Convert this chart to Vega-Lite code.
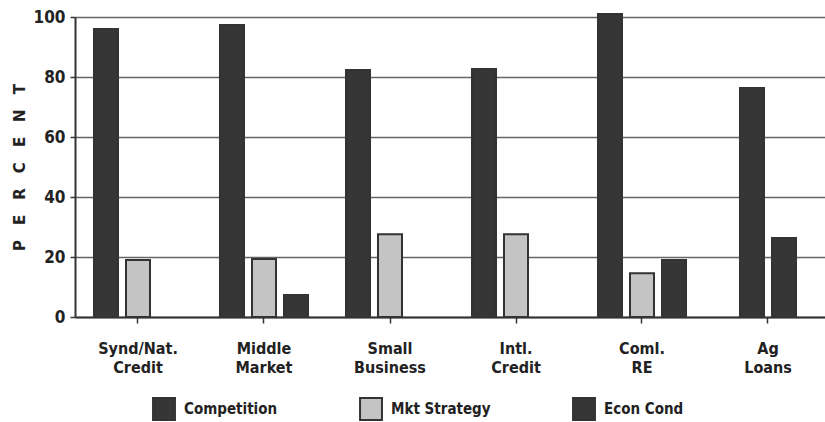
{
  "$schema": "https://vega.github.io/schema/vega-lite/v6.json",
  "autosize": {"type": "none"},
  "padding": {"left": 75, "top": 17, "right": 0, "bottom": 105},
  "width": 756,
  "height": 300,
  "background": "white",
  "config": {
    "font": "DejaVu Sans Condensed",
    "view": {"stroke": null}
  },
  "data": {
    "values": [
      {"category": "Synd/Nat. Credit", "series": "Competition", "value": 96},
      {"category": "Synd/Nat. Credit", "series": "Mkt Strategy", "value": 19},
      {"category": "Middle Market", "series": "Competition", "value": 97.3},
      {"category": "Middle Market", "series": "Mkt Strategy", "value": 19.3},
      {"category": "Middle Market", "series": "Econ Cond", "value": 7.3},
      {"category": "Small Business", "series": "Competition", "value": 82.3},
      {"category": "Small Business", "series": "Mkt Strategy", "value": 27.6},
      {"category": "Intl. Credit", "series": "Competition", "value": 82.7},
      {"category": "Intl. Credit", "series": "Mkt Strategy", "value": 27.6},
      {"category": "Coml. RE", "series": "Competition", "value": 101},
      {"category": "Coml. RE", "series": "Mkt Strategy", "value": 14.6},
      {"category": "Coml. RE", "series": "Econ Cond", "value": 19},
      {"category": "Ag Loans", "series": "Competition", "value": 76.3},
      {"category": "Ag Loans", "series": "Econ Cond", "value": 26.3}
    ]
  },
  "encoding": {
    "x": {
      "field": "category", "type": "nominal",
      "scale": {
        "domain": ["Synd/Nat. Credit", "Middle Market", "Small Business", "Intl. Credit", "Coml. RE", "Ag Loans"],
        "paddingInner": 0.238, "paddingOuter": 0.119
      },
      "axis": {
        "title": null, "labelAngle": 0, "labelExpr": "split(datum.label, ' ')",
        "labelFont": "DejaVu Sans Condensed", "labelFontWeight": "bold", "labelFontSize": 16,
        "labelColor": "#222", "labelLineHeight": 19, "labelPadding": 17, "labelBaseline": "top",
        "tickColor": "#333", "tickSize": 6, "tickWidth": 1.5,
        "domainColor": "#333", "domainWidth": 2, "grid": false
      }
    },
    "y": {
      "field": "value", "type": "quantitative",
      "scale": {"domain": [0, 100], "nice": false},
      "axis": {
        "title": "P\u2003E\u2003R\u2003C\u2003E\u2003N\u2003T", "titleFont": "DejaVu Sans", "titleFontWeight": "bold", "titleFontSize": 15,
        "titleColor": "#222", "titlePadding": 6,
        "values": [0, 20, 40, 60, 80, 100],
        "labelFont": "DejaVu Sans Condensed", "labelFontWeight": "bold", "labelFontSize": 17,
        "labelColor": "#222", "labelPadding": 5,
        "tickColor": "#333", "tickSize": 5, "tickWidth": 1.5,
        "domainColor": "#333", "domainWidth": 2,
        "grid": true, "gridColor": "#666", "gridWidth": 1.6
      }
    },
    "color": {
      "field": "series", "type": "nominal",
      "scale": {"domain": ["Competition", "Mkt Strategy", "Econ Cond"], "range": ["#363636", "#c4c4c4", "#363636"]},
      "legend": {
        "title": null, "orient": "none", "legendX": 77, "legendY": 380, "direction": "horizontal",
        "symbolType": "square", "symbolSize": 480, "symbolStrokeColor": "#333", "symbolStrokeWidth": 2,
        "symbolOpacity": 1,
        "labelFont": "DejaVu Sans Condensed", "labelFontWeight": "bold", "labelFontSize": 15,
        "labelColor": "#222", "labelOffset": 8, "columnPadding": 78
      }
    }
  },
  "layer": [
    {
      "transform": [{"filter": "datum.category !== 'Ag Loans'"}],
      "mark": {"type": "bar", "stroke": "#333", "strokeWidth": 2},
      "encoding": {
        "xOffset": {"field": "series", "type": "nominal",
          "scale": {"domain": ["Competition", "Mkt Strategy", "Econ Cond"], "paddingInner": 0.25, "paddingOuter": 0.125}}
      }
    },
    {
      "transform": [{"filter": "datum.category === 'Ag Loans'"}],
      "mark": {"type": "bar", "stroke": "#333", "strokeWidth": 2},
      "encoding": {
        "xOffset": {"field": "series", "type": "nominal",
          "scale": {"domain": ["Competition", "Econ Cond"], "paddingInner": 0.25, "paddingOuter": 0.625}}
      }
    }
  ],
  "resolve": {"scale": {"xOffset": "independent"}}
}
